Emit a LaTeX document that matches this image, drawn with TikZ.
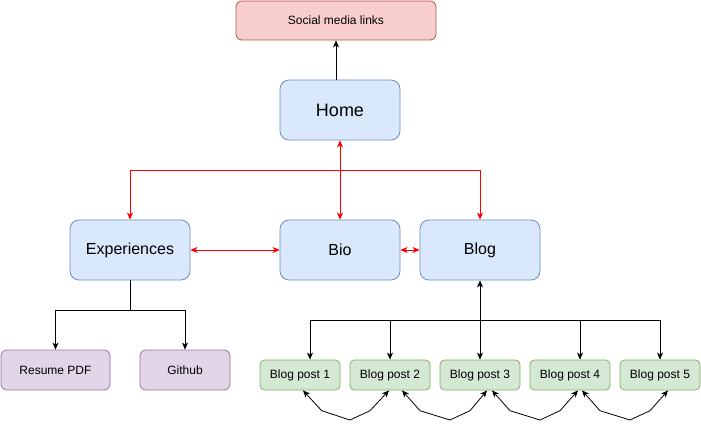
\documentclass[tikz,border=0pt]{standalone}
\usepackage{fontspec}
\setmainfont{Liberation Sans}
\usetikzlibrary{arrows.meta}
\definecolor{bfill}{HTML}{DAE8FC}\definecolor{bline}{HTML}{6C8EBF}
\definecolor{rfill}{HTML}{F8CECC}\definecolor{rline}{HTML}{B85450}
\definecolor{pfill}{HTML}{E1D5E7}\definecolor{pline}{HTML}{9673A6}
\definecolor{gfill}{HTML}{D5E8D4}\definecolor{gline}{HTML}{82B366}
\definecolor{redarr}{HTML}{FF0000}
\tikzset{
  box/.style={draw, line width=0.8pt, inner sep=0pt, align=center},
  bigbox/.style={box, fill=bfill, draw=bline, minimum width=120pt, minimum height=60pt, rounded corners=9pt, font=\fontsize{16}{19}\selectfont},
  socialbox/.style={box, fill=rfill, draw=rline, minimum width=200pt, minimum height=39pt, rounded corners=6pt, font=\fontsize{12}{14}\selectfont},
  purplebox/.style={box, fill=pfill, draw=pline, minimum height=40pt, rounded corners=6pt, font=\fontsize{12}{14}\selectfont},
  postbox/.style={box, fill=gfill, draw=gline, minimum width=80pt, minimum height=30pt, rounded corners=4.5pt, font=\fontsize{12}{14}\selectfont},
  tip/.style={line width=0.8pt, arrows={-Stealth[length=7pt,width=6pt,inset=2pt]}},
  dtip/.style={line width=0.8pt, arrows={Stealth[length=7pt,width=6pt,inset=2pt]-Stealth[length=7pt,width=6pt,inset=2pt]}},
  redc/.style={color=redarr},
}
\begin{document}
\begin{tikzpicture}[x=1pt,y=-1pt]
\useasboundingbox (0,0) rectangle (701,430);
\node[socialbox] (social) at (336,20.5) {Social media links};
\node[bigbox, font=\fontsize{18}{21}\selectfont] (home) at (340,110) {Home};
\node[bigbox] (exp) at (130,250) {Experiences};
\node[bigbox] (bio) at (340,250) {Bio};
\node[bigbox] (blog) at (480,250) {Blog};
\node[purplebox, minimum width=109pt] (resume) at (55.5,370) {Resume PDF};
\node[purplebox, minimum width=90pt] (github) at (185,370) {Github};
\node[postbox] (p1) at (300,375) {Blog post 1};
\node[postbox] (p2) at (390,375) {Blog post 2};
\node[postbox] (p3) at (480,375) {Blog post 3};
\node[postbox] (p4) at (570,375) {Blog post 4};
\node[postbox] (p5) at (660,375) {Blog post 5};

% home -> social
\draw[tip] (home.north -| social.south) -- (social.south);

% red connectors
\coordinate (rj) at (340,170);
\draw[dtip, redc] (home.south) -- (bio.north);
\draw[tip, redc] (rj) -| (exp.north);
\draw[tip, redc] (rj) -| (blog.north);
\draw[dtip, redc] (exp.east) -- (bio.west);
\draw[dtip, redc] (bio.east) -- (blog.west);

% experiences children
\coordinate (ej) at (130,310);
\draw[line width=0.8pt] (exp.south) -- (ej);
\draw[tip] (ej) -| (resume.north);
\draw[tip] (ej) -| (github.north);

% blog children
\coordinate (bj) at (480,320);
\draw[dtip] (blog.south) -- (p3.north);
\draw[tip] (bj) -| ([xshift=10pt]p1.north);
\draw[tip] (bj) -| (p2.north);
\draw[tip] (bj) -| ([xshift=10pt]p4.north);
\draw[tip] (bj) -| (p5.north);

% blog post links
\draw[dtip] ([xshift=3pt]p1.south) -- (321.7,410.7) -- (350,420) -- (370,410.7) -- ([xshift=-1pt]p2.south);
\draw[dtip] ([xshift=12pt]p2.south) -- (420,410.7) -- (450,420) -- (470,410.7) -- ([xshift=7pt]p3.south);
\draw[dtip] ([xshift=12pt]p3.south) -- (510,410.7) -- (540,420) -- (560,410.7) -- ([xshift=8pt]p4.south);
\draw[dtip] ([xshift=12pt]p4.south) -- (600,410.7) -- (630,420) -- (650,410.7) -- ([xshift=8pt]p5.south);
\end{tikzpicture}
\end{document}
